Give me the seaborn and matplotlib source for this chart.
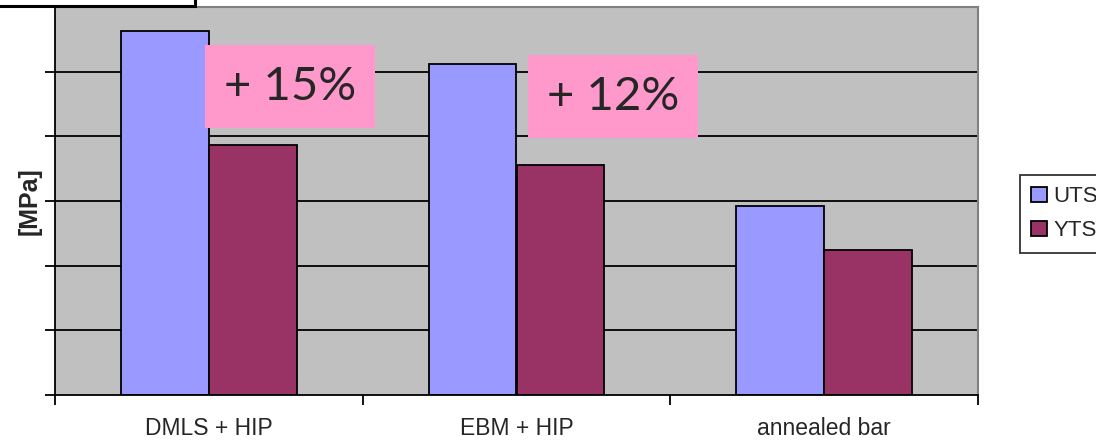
import matplotlib
matplotlib.use("Agg")
import matplotlib.pyplot as plt
from matplotlib.patches import Rectangle
import seaborn as sns
import pandas as pd

# Tensile strength by processing route
categories = ["DMLS + HIP", "EBM + HIP", "annealed bar"]
uts = [1126, 1025, 585]
yts = [773, 711, 448]
series = ["UTS", "YTS"]
gains = ["+ 15%", "+ 12%"]

df = pd.DataFrame({
    "process": categories * 2,
    "MPa": uts + yts,
    "kind": [series[0]] * 3 + [series[1]] * 3,
})

sns.set_theme(style="white")
plt.rcParams["font.family"] = ["Liberation Sans", "DejaVu Sans"]

fig = plt.figure(figsize=(10.96, 4.41), dpi=100)
ax = fig.add_axes([55 / 1096, 46 / 441, 923 / 1096, 388 / 441])
ax.set_facecolor("#C0C0C0")

ymax, ystep = 1200, 200
for v in range(ystep, ymax, ystep):
    ax.axhline(v, color="black", lw=1.3, zorder=0.5)

sns.barplot(data=df, x="process", y="MPa", hue="kind", order=categories,
            hue_order=series, palette=["#9999FF", "#993366"], width=0.572,
            edgecolor="black", linewidth=1.3, saturation=1, ax=ax, zorder=2)

ax.set_xlim(-0.5, len(categories) - 0.5)
ax.set_ylim(0, ymax)
ax.set_yticks(range(0, ymax + 1, ystep))
ax.set_yticklabels([])
ax.tick_params(axis="y", direction="out", length=7, width=1.3, color="black", left=True)

ax.set_xticks(range(len(categories)))
ax.set_xticklabels(categories, fontsize=16.5)
ax.set_xticks([i - 0.5 for i in range(len(categories) + 1)], minor=True)
ax.tick_params(axis="x", which="major", length=0, pad=16)
ax.tick_params(axis="x", which="minor", direction="out", length=7, width=1.3,
               color="black", bottom=True)
ax.set_xlabel("")
ax.set_ylabel("[MPa]", fontsize=18, fontweight="bold", labelpad=-1)

for side in ("left", "bottom"):
    ax.spines[side].set_color("black")
    ax.spines[side].set_linewidth(1.3)
for side in ("top", "right"):
    ax.spines[side].set_visible(True)
    ax.spines[side].set_color("#808080")
    ax.spines[side].set_linewidth(1.5)

# Percentage callouts
boxes = [(0.1625, 0.688, 0.1842, 0.214), (0.5125, 0.662, 0.1841, 0.214)]
for (x0, y0, w, h), label in zip(boxes, gains):
    ax.add_patch(Rectangle((x0, y0), w, h, transform=ax.transAxes,
                           facecolor="#FF99CC", edgecolor="none", zorder=5))
    ax.text(x0 + w / 2, y0 + h / 2, label, transform=ax.transAxes,
            ha="center", va="center", fontsize=34, family="Lato", zorder=6)

# Legend on the right
handles, labels = ax.get_legend_handles_labels()
ax.legend(handles, labels, loc="upper left", bbox_to_anchor=(1020 / 1096, 1 - 175 / 441),
          bbox_transform=fig.transFigure, borderaxespad=0, frameon=True,
          fancybox=False, edgecolor="black", fontsize=16, handlelength=0.7,
          handleheight=0.7, handletextpad=0.3, labelspacing=0.6,
          borderpad=0.5)
leg = ax.get_legend()
leg.get_frame().set_linewidth(1.3)
for p in leg.get_patches():
    p.set_linewidth(1.3)

# Title box frame along the top edge
fig.add_artist(Rectangle((-5 / 1096, 435 / 441), 200 / 1096, 20 / 441,
                         transform=fig.transFigure, facecolor="white",
                         edgecolor="black", lw=2.2, clip_on=False))

fig.savefig("out.png", dpi=100)
